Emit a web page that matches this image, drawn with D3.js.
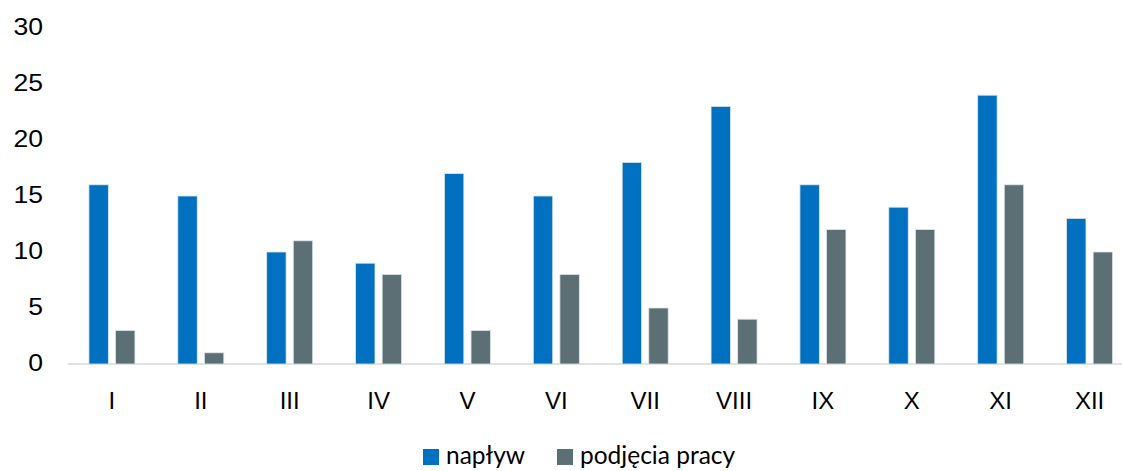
<!DOCTYPE html>
<html>
<head>
<meta charset="utf-8">
<script src="https://cdn.jsdelivr.net/npm/d3@7"></script>
<style>
  body { margin: 0; background: #fff; }
  svg { display: block; }
</style>
</head>
<body>
<svg id="chart" width="1122" height="471"></svg>
<script>
// months (Roman numerals)
var months = ['I','II','III','IV','V','VI','VII','VIII','IX','X','XI','XII'];
var naplyw = [16,15,10,9,17,15,18,23,16,14,24,13];
var podjecia = [3,1,11,8,3,8,5,4,12,12,16,10];
var yTicks = [0,5,10,15,20,25,30];
var seriesNames = ['napływ','podjęcia pracy'];
var colors = ['#0070C0','#5B6F74'];

var svg = d3.select('#chart');

var x = d3.scaleBand().domain(months).range([67.5, 1134]).paddingInner(0).paddingOuter(0);
var y = d3.scaleLinear().domain([0, 30]).range([364, 28]);

var inner = d3.scaleBand().domain([0, 1]).range([-23, 23]).paddingInner(0.27);

// y labels - the digits in the original are a bit wide, so stretch them
svg.append('g').selectAll('text')
  .data(yTicks).enter().append('text')
  .attr('transform', function(d) { return 'translate(43,' + (y(d) - 1) + ') scale(1.13,1)'; })
  .attr('text-anchor', 'end')
  .attr('dy', '0.35em')
  .style('font-family', 'Liberation Sans, Arial, sans-serif')
  .style('font-size', '23.5px')
  .attr('fill', '#000')
  .text(function(d) { return d; });

// baseline
svg.append('line')
  .attr('x1', 67.5).attr('x2', 1122)
  .attr('y1', y(0)).attr('y2', y(0))
  .attr('stroke', '#D9D9D9').attr('stroke-width', 1.5);

var data = months.map(function(m, i) { return [naplyw[i], podjecia[i]]; });

var groups = svg.append('g').selectAll('g')
  .data(data).enter().append('g')
  .attr('transform', function(d, i) { return 'translate(' + (x(months[i]) + x.bandwidth() / 2) + ',0)'; });

groups.selectAll('rect')
  .data(function(d) { return d; }).enter().append('rect')
  .attr('x', function(d, j) { return inner(j); })
  .attr('width', inner.bandwidth())
  .attr('y', function(d) { return y(d); })
  .attr('height', function(d) { return y(0) - y(d); })
  .attr('fill', function(d, j) { return colors[j]; })
  .attr('stroke', '#DDE6EA').attr('stroke-width', 0.8);

// x labels
svg.append('g').selectAll('text')
  .data(months).enter().append('text')
  .attr('x', function(d) { return x(d) + x.bandwidth() / 2; })
  .attr('y', 401)
  .attr('dy', '0.35em')
  .attr('text-anchor', 'middle')
  .style('font-family', 'Liberation Sans, Arial, sans-serif')
  .style('font-size', '24px')
  .text(function(d) { return d; });

// legend (kept a little high so the descenders fit)
var legendX = [423, 557];
var legend = svg.append('g').selectAll('g')
  .data(seriesNames).enter().append('g')
  .attr('transform', function(d, i) { return 'translate(' + legendX[i] + ',449)'; });
legend.append('rect')
  .attr('width', 16).attr('height', 16)
  .attr('fill', function(d, i) { return colors[i]; });
legend.append('text')
  .attr('x', 23).attr('y', 15)
  .style('font-family', 'Lato, Carlito, sans-serif')
  .style('font-size', '24.5px')
  .text(function(d) { return d; });
</script>
</body>
</html>
